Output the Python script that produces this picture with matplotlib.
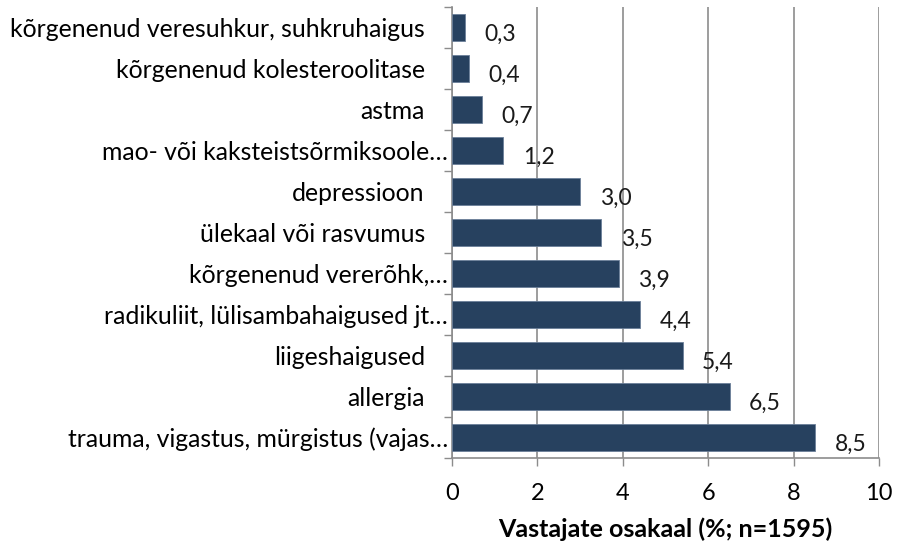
import matplotlib.pyplot as plt
from matplotlib.transforms import ScaledTranslation

categories = [
    "trauma, vigastus, mürgistus (vajas…",
    "allergia",
    "liigeshaigused",
    "radikuliit, lülisambahaigused jt…",
    "kõrgenenud vererõhk,…",
    "ülekaal või rasvumus",
    "depressioon",
    "mao- või kaksteistsõrmiksoole…",
    "astma",
    "kõrgenenud kolesteroolitase",
    "kõrgenenud veresuhkur, suhkruhaigus",
]
values = [8.5, 6.5, 5.4, 4.4, 3.9, 3.5, 3.0, 1.2, 0.7, 0.4, 0.3]
value_labels = ["8,5", "6,5", "5,4", "4,4", "3,9", "3,5", "3,0", "1,2", "0,7", "0,4", "0,3"]
x_ticks = [0, 2, 4, 6, 8, 10]

plt.rcParams['font.family'] = ['Lato', 'DejaVu Sans']

fig = plt.figure(figsize=(8.97, 5.48), dpi=100)
ax = fig.add_axes([452 / 897, 1 - 458 / 548, (879 - 452) / 897, (458 - 7) / 548])

y = list(range(len(categories)))
ax.barh(y, values, height=0.65, color='#27415F', edgecolor='#6B7F99', linewidth=0.6, zorder=3)

for yi, v, lab in zip(y, values, value_labels):
    ax.annotate(lab, (v, yi), xytext=(14, -5), textcoords='offset points',
                ha='left', va='center', fontsize=16.5, color='#1a1a1a')

ax.set_xlim(0, 10)
ax.set_ylim(-0.5, len(categories) - 0.5)
ax.set_xticks(x_ticks)
ax.set_xticklabels([str(t) for t in x_ticks], fontsize=17)
ax.set_yticks(y)
ax.set_yticklabels(categories, fontsize=17.8)
ax.tick_params(axis='y', length=0, pad=3)
# labels that were not shortened sit a bit further from the axis
for lbl in ax.get_yticklabels():
    if not lbl.get_text().endswith("…"):
        lbl.set_transform(lbl.get_transform() + ScaledTranslation(-0.23, 0, fig.dpi_scale_trans))
ax.set_yticks([i - 0.5 for i in range(len(categories) + 1)], minor=True)
ax.tick_params(axis='y', which='minor', length=6, color='#8c8c8c', width=1)
ax.tick_params(axis='x', length=6, color='#8c8c8c', width=1, pad=12)

ax.grid(axis='x', color='#8c8c8c', linewidth=1.2, zorder=0)
for s in ['top', 'right']:
    ax.spines[s].set_visible(False)
for s in ['left', 'bottom']:
    ax.spines[s].set_color('#8c8c8c')
    ax.spines[s].set_linewidth(1.2)

ax.set_xlabel("Vastajate osakaal (%; n=1595)", fontsize=18, fontweight='bold', labelpad=10)

fig.savefig("out.png", dpi=100)
